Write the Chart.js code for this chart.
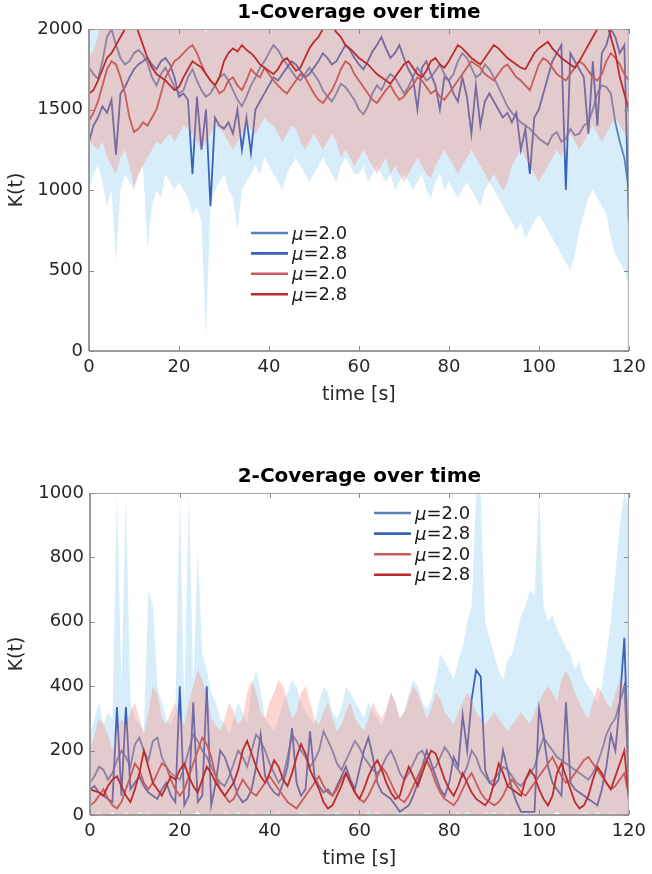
<!DOCTYPE html>
<html>
<head>
<meta charset="utf-8">
<script src="https://cdn.jsdelivr.net/npm/chart.js@4.4.1/dist/chart.umd.min.js"></script>
<style>
  html, body { margin: 0; padding: 0; background: #ffffff; }
  body { width: 652px; height: 874px; position: relative; overflow: hidden; }
  canvas { position: absolute; left: 0; }
  #c1 { top: 0px; }
  #c2 { top: 464px; }
</style>
</head>
<body>
<canvas id="c1" width="652" height="410"></canvas>
<canvas id="c2" width="652" height="410"></canvas>
<script>
// ---------------- DATA ----------------
const timeS = [0,1,2,3,4,5,6,7,8,9,10,11,12,13,14,15,16,17,18,19,20,21,22,23,24,25,26,27,28,29,30,31,32,33,34,35,36,37,38,39,40,41,42,43,44,45,46,47,48,49,50,51,52,53,54,55,56,57,58,59,60,61,62,63,64,65,66,67,68,69,70,71,72,73,74,75,76,77,78,79,80,81,82,83,84,85,86,87,88,89,90,91,92,93,94,95,96,97,98,99,100,101,102,103,104,105,106,107,108,109,110,111,112,113,114,115,116,117,118,119,120];
const muValues = ['2.0', '2.8', '2.0', '2.8'];
const xTicks = [0, 20, 40, 60, 80, 100, 120];
const yTicks1 = [0, 500, 1000, 1500, 2000];
const yTicks2 = [0, 200, 400, 600, 800, 1000];
const titles = ['1-Coverage over time', '2-Coverage over time'];

// ---- chart 1 (1-Coverage) ----
const cov1Blue20 = [1760,1720,1690,1800,1950,2000,1900,1820,1780,1800,
1850,1870,1840,1790,1700,1650,1720,1760,1700,1640,
1600,1620,1700,1750,1680,1620,1580,1600,1650,1700,
1720,1680,1620,1560,1520,1580,1650,1700,1760,1800,
1850,1900,1870,1820,1780,1740,1700,1680,1720,1760,
1720,1680,1620,1580,1550,1600,1660,1640,1600,1560,
1500,1470,1520,1600,1650,1620,1680,1720,1700,1650,
1600,1640,1700,1760,1720,1680,1700,1740,1780,1720,
1680,1720,1800,1850,1820,1760,1700,1720,1780,1750,
1700,1640,1580,1520,1480,1450,1420,1400,1380,1350,
1320,1300,1280,1340,1360,1300,1320,1380,1340,1350,
1400,1420,1500,1600,1650,1640,1600,1420,1300,1200,
1000];
const cov1Blue28 = [1300,1400,1450,1520,1480,1560,1220,1600,1640,1700,
1750,1780,1800,1820,1780,1750,1800,1820,1780,1700,
1580,1600,1560,1100,1580,1250,1500,900,1450,1400,
1380,1420,1350,1500,1250,1450,1230,1500,1550,1600,
1650,1700,1680,1720,1760,1800,1780,1740,1700,1720,
1760,1800,1850,1820,1780,1800,1850,1900,1870,1820,
1780,1750,1800,1860,1900,1950,1880,1820,1850,1900,
1820,1750,1700,1500,1760,1800,1720,1650,1500,1700,
1680,1600,1550,1700,1580,1350,1650,1400,1550,1600,
1550,1500,1450,1480,1420,1480,1250,1380,1100,1450,
1500,1600,1700,1800,1850,1900,1000,1850,1800,1750,
1700,1350,1800,1400,1850,1900,2000,1950,1850,1900,
800];
const cov1Red20 = [1430,1480,1550,1650,1750,1800,1780,1700,1600,1450,
1360,1380,1420,1400,1450,1500,1600,1700,1750,1800,
1820,1850,1880,1900,1850,1780,1720,1680,1650,1600,
1620,1680,1700,1650,1620,1680,1750,1720,1700,1760,
1720,1680,1650,1620,1600,1640,1680,1720,1700,1650,
1600,1560,1540,1580,1620,1680,1750,1800,1780,1720,
1680,1640,1600,1560,1540,1580,1620,1650,1600,1560,
1580,1620,1650,1700,1680,1640,1600,1620,1580,1560,
1600,1640,1680,1720,1760,1800,1780,1760,1720,1700,
1680,1720,1760,1780,1740,1700,1680,1650,1620,1700,
1780,1820,1800,1760,1720,1700,1680,1720,1760,1800,
1780,1740,1700,1680,1720,1800,1850,1820,1780,1720,
1680];
const cov1Red28 = [1600,1620,1680,1750,1820,1850,1900,1950,2000,2050,
2050,1980,1900,1820,1760,1720,1700,1680,1650,1620,
1640,1700,1750,1800,1780,1760,1720,1680,1650,1700,
1800,1850,1880,1860,1900,1870,1850,1820,1780,1760,
1740,1720,1750,1800,1820,1780,1740,1760,1820,1880,
1920,1950,2000,2050,2020,1980,1950,1900,1880,1850,
1820,1800,1780,1750,1720,1700,1680,1660,1700,1740,
1780,1800,1760,1720,1700,1740,1800,1820,1780,1760,
1800,1850,1900,1880,1850,1820,1800,1780,1820,1860,
1900,1880,1850,1820,1800,1780,1760,1750,1800,1850,
1880,1900,1920,1880,1850,1820,1800,1780,1760,1800,
1850,1900,1950,2000,2050,2050,1950,1850,1700,1600,
1500];
const cov1BlueLo = [1000,1100,1150,1050,900,1000,550,1000,1100,1050,
1000,1100,1150,630,900,1000,950,1100,1050,1000,
1050,1000,950,850,900,800,80,900,1000,1050,
1100,1000,950,750,1000,1050,1100,1150,1100,1200,
1150,1100,1050,1000,1100,1150,1200,1150,1100,1050,
1100,1150,1200,1150,1100,1050,1150,1200,1150,1100,
1100,1150,1050,1100,1150,1100,1050,1100,1000,1050,
1100,1050,1000,1050,1100,1000,950,1050,1100,1000,
1050,1000,950,1000,1050,1000,950,900,1000,1050,
1000,950,900,850,800,750,800,700,750,800,
850,800,750,700,650,600,550,500,600,750,
850,950,1000,950,900,850,700,600,550,500,
400];
const cov1BlueHi = [2100,2150,2200,2150,2100,2120,2180,2150,2100,2150,
2120,2100,2150,2200,2150,2100,2120,2150,2180,2150,
2100,2120,2150,2100,2080,2050,1960,2100,2150,2120,
2100,2150,2180,2150,2100,2120,2150,2100,2080,2120,
2150,2180,2150,2120,2100,2150,2180,2150,2100,2120,
2150,2100,2120,2150,2180,2150,2120,2100,2150,2180,
2150,2120,2100,2150,2180,2150,2100,2120,2150,2100,
2120,2150,2180,2150,2100,2120,2150,2180,2150,2120,
2100,2150,2180,2150,2120,2100,2150,2200,2150,2120,
2100,2150,2120,2100,2150,2180,2150,2120,2100,2150,
2180,2150,2120,2100,2150,2180,2150,2120,2100,2150,
2120,2150,2180,2150,2100,2120,2150,2200,2150,2120,
2100];
const cov1RedLo = [1300,1280,1250,1300,1200,1150,1100,1200,1250,1150,
1020,1100,1150,1200,1250,1300,1280,1320,1350,1300,
1350,1400,1380,1350,1300,1250,1300,1350,1400,1380,
1350,1300,1250,1300,1350,1400,1380,1350,1400,1450,
1420,1400,1350,1300,1350,1400,1380,1300,1250,1300,
1350,1300,1250,1300,1350,1300,1200,1250,1200,1150,
1200,1250,1200,1150,1100,1150,1200,1100,1150,1100,
1050,1100,1150,1200,1150,1100,1075,1150,1200,1250,
1200,1150,1100,1150,1200,1250,1200,1150,1100,1050,
1100,1050,990,1050,1150,1200,1250,1200,1150,1100,
1050,1100,1150,1200,1250,1200,1300,1350,1300,1250,
1300,1350,1400,1350,1300,1350,1400,1450,1400,1350,
1300];
const cov1RedHi = [1820,1870,1950,2100,2150,2120,2100,2150,2180,2150,
2120,2100,2150,2180,2150,2120,2100,2150,2180,2150,
2120,2100,2150,2120,2080,2050,1980,2100,2150,2120,
2100,2150,2180,2150,2120,2100,2150,2180,2150,2120,
2100,2150,2180,2150,2120,2100,2150,2180,2150,2120,
2100,2150,2180,2150,2120,2100,2150,2180,2150,2120,
2100,2150,2180,2150,2120,2100,2150,2180,2150,2120,
2100,2150,2180,2150,2120,2100,2150,2180,2150,2120,
2100,2150,2180,2150,2120,2100,2150,2180,2150,2120,
2100,2150,2180,2150,2120,2100,2150,2180,2150,2120,
2100,2150,2180,2150,2120,2100,2150,2180,2150,2120,
2100,2150,2180,2150,2120,2100,2150,2180,2150,2120,
2100];

// ---- chart 2 (2-Coverage) ----
const cov2Blue20 = [100,120,150,140,110,130,170,200,180,150,
220,240,200,170,230,240,180,150,130,120,
110,150,200,250,230,200,180,150,120,100,
90,120,160,200,180,150,200,250,230,200,
160,130,100,120,180,250,230,200,180,150,
170,200,260,230,200,160,140,170,200,230,
210,180,160,140,130,150,180,200,170,130,
110,130,160,190,200,170,140,150,180,210,
190,160,140,120,150,200,180,140,120,100,
110,130,150,140,120,100,90,110,130,150,
200,240,220,200,180,170,160,150,140,130,
120,110,130,160,200,250,280,300,350,400,
100];
const cov2Blue28 = [80,90,70,60,50,40,335,60,335,80,
100,120,90,70,60,50,80,100,60,40,
400,30,60,350,40,60,400,30,100,200,
180,140,100,60,40,50,80,150,250,120,
90,70,60,100,150,270,100,60,80,260,
120,90,70,80,60,90,120,150,110,80,
140,200,240,180,100,70,60,50,30,10,
20,30,60,100,150,200,160,120,80,60,
100,180,150,310,200,360,450,430,140,100,
90,110,200,140,80,40,10,10,10,10,
330,250,150,100,80,60,350,100,80,70,
60,50,40,30,80,150,250,200,350,550,
100];
const cov2Red20 = [30,40,60,80,50,30,20,40,80,120,
160,140,100,80,100,130,160,150,110,80,
60,80,120,160,200,240,220,180,120,80,
60,40,50,80,110,90,70,60,80,100,
120,100,80,60,40,30,20,40,60,80,
100,120,90,70,60,80,110,130,100,70,
50,40,60,90,120,150,130,100,70,50,
40,60,90,120,150,170,140,100,70,50,
40,30,50,80,110,130,100,70,50,40,
30,40,60,90,110,90,70,60,80,100,
120,140,160,180,150,120,100,110,130,150,
170,180,160,140,120,100,80,90,110,130,
60];
const cov2Red28 = [80,75,70,60,90,110,120,90,60,40,
80,130,200,150,100,80,60,90,120,110,
140,160,120,90,70,110,150,130,100,80,
60,80,100,140,200,230,190,150,120,100,
130,170,150,110,90,130,180,220,190,140,
110,80,40,20,30,60,90,130,100,70,
50,80,120,150,170,140,100,70,50,60,
110,150,120,90,130,170,200,190,150,110,
80,60,90,130,100,70,50,40,30,50,
100,160,130,90,80,70,60,110,140,120,
80,50,30,60,130,160,120,80,40,20,
30,60,110,150,130,100,80,120,160,200,
50];
const cov2BlueLo = [0,5,10,0,0,5,0,0,10,5,
0,0,5,10,0,0,5,0,0,10,
5,0,0,5,10,0,0,5,0,0,
10,5,0,0,5,0,10,0,5,0,
0,5,10,0,0,5,0,0,10,5,
0,0,5,10,0,0,5,0,0,10,
5,0,0,5,10,0,0,5,0,0,
10,5,0,0,5,0,10,0,5,0,
0,5,10,0,0,5,0,0,10,5,
0,0,5,10,0,0,5,0,0,10,
5,0,0,5,10,0,0,5,0,0,
10,5,0,0,5,0,10,0,5,0,
0];
const cov2BlueHi = [250,300,350,280,320,300,1000,400,1000,350,
300,280,260,700,650,400,350,300,280,320,
1000,350,1000,400,820,500,450,380,350,300,
280,250,300,350,320,280,400,450,380,300,
280,260,300,350,380,420,400,350,320,300,
280,350,400,380,320,300,330,400,380,350,
330,300,350,320,300,280,320,380,350,300,
320,380,420,400,350,330,360,420,500,480,
450,420,480,520,600,650,1000,1000,600,550,
500,450,420,480,500,560,620,650,700,680,
1000,650,600,620,580,550,520,500,450,480,
420,400,380,350,400,500,600,750,900,1000,
950];
const cov2RedLo = [0,0,5,0,0,10,0,0,5,0,
0,10,0,0,5,0,0,0,10,0,
5,0,0,0,10,0,5,0,0,0,
0,5,0,10,0,0,0,5,0,0,
10,0,0,5,0,0,0,10,0,5,
0,0,0,5,0,10,0,0,0,5,
0,0,10,0,0,5,0,0,0,10,
0,5,0,0,0,10,0,0,5,0,
0,0,5,0,10,0,0,0,5,0,
10,0,0,5,0,0,0,10,0,0,
5,0,0,0,10,0,5,0,0,0,
0,5,0,10,0,0,0,5,0,0,
0];
const cov2RedHi = [200,250,300,280,250,200,260,300,280,320,
350,300,250,320,400,380,300,280,320,350,
300,280,350,400,450,420,380,300,280,260,
300,350,320,280,300,380,420,380,320,300,
350,380,420,400,350,300,320,380,400,350,
300,280,320,350,300,260,280,320,350,300,
280,260,300,350,320,300,330,380,350,300,
320,360,400,380,340,300,330,380,360,320,
300,280,320,350,380,360,320,300,280,300,
320,300,280,260,280,300,320,300,280,320,
350,380,400,380,350,420,450,420,380,350,
320,300,350,400,380,350,330,380,420,400,
350];

// ---------------- STYLE ----------------
const FONT = '"DejaVu Sans", "Liberation Sans", sans-serif';
const C_BLUE20 = 'rgb(90,130,186)';
const C_BLUE28 = 'rgb(58,98,184)';
const C_RED20 = 'rgb(200,92,92)';
const C_RED28 = 'rgb(188,44,44)';
const C_BLUE_BAND = 'rgba(100,190,235,0.26)';
const C_RED_BAND = 'rgba(250,125,110,0.32)';
const lineColors = [C_BLUE20, C_BLUE28, C_RED20, C_RED28];

function pts(arr) { return timeS.map((t, i) => ({ x: t, y: arr[i] })); }

function makeDatasets(bLo, bHi, b20, b28, rLo, rHi, r20, r28) {
  const band = (d, order) => ({ data: pts(d), borderWidth: 0, pointRadius: 0, borderColor: 'rgba(0,0,0,0)', fill: false, order });
  const line = (d, c, order) => ({ data: pts(d), borderColor: c, borderWidth: 1.8, pointRadius: 0, fill: false, tension: 0, order });
  return [
    band(bLo, 10),
    Object.assign(band(bHi, 9), { fill: '-1', backgroundColor: C_BLUE_BAND }),
    line(b20, C_BLUE20, 8),
    line(b28, C_BLUE28, 7),
    band(rLo, 6),
    Object.assign(band(rHi, 5), { fill: '-1', backgroundColor: C_RED_BAND }),
    line(r20, C_RED20, 4),
    line(r28, C_RED28, 3)
  ];
}

// plugin: box, inward ticks, custom mu legend
const frameAndLegend = {
  id: 'frameAndLegend',
  afterDraw(chart, args, opts) {
    const ctx = chart.ctx;
    const a = chart.chartArea;
    const xs = chart.scales.x, ys = chart.scales.y;
    ctx.save();
    ctx.strokeStyle = '#a8a8a8';
    ctx.lineWidth = 1;
    ctx.beginPath();
    ctx.moveTo(a.left, a.top + 0.5); ctx.lineTo(a.right, a.top + 0.5);
    ctx.moveTo(a.right - 0.5, a.top); ctx.lineTo(a.right - 0.5, a.bottom);
    ctx.stroke();
    ctx.strokeStyle = '#9c9c9c';
    ctx.lineWidth = 2;
    ctx.beginPath();
    ctx.moveTo(a.left, a.bottom); ctx.lineTo(a.right, a.bottom);
    ctx.moveTo(a.left, a.top); ctx.lineTo(a.left, a.bottom);
    ctx.stroke();
    ctx.strokeStyle = '#8a8a8a';
    ctx.lineWidth = 1;
    ctx.beginPath();
    opts.xTicks.forEach(v => {
      const px = Math.round(xs.getPixelForValue(v)) + 0.5;
      ctx.moveTo(px, a.bottom); ctx.lineTo(px, a.bottom - 5);
      ctx.moveTo(px, a.top); ctx.lineTo(px, a.top + 5);
    });
    opts.yTicks.forEach(v => {
      const py = Math.round(ys.getPixelForValue(v)) + 0.5;
      ctx.moveTo(a.left, py); ctx.lineTo(a.left + 5, py);
      ctx.moveTo(a.right, py); ctx.lineTo(a.right - 5, py);
    });
    ctx.stroke();
    const L = opts.legend;
    ctx.textBaseline = 'middle';
    ctx.textAlign = 'left';
    muValues.forEach((mv, i) => {
      const y = L.y0 + i * L.dy;
      ctx.strokeStyle = lineColors[i];
      ctx.lineWidth = 2.6;
      ctx.beginPath();
      ctx.moveTo(L.x, y); ctx.lineTo(L.x + 37, y);
      ctx.stroke();
      ctx.fillStyle = '#1a1a1a';
      ctx.font = 'italic 18px ' + FONT;
      const tx = L.x + 41;
      ctx.fillText('\u03BC', tx, y + 2);
      const w = ctx.measureText('\u03BC').width;
      ctx.font = '18px ' + FONT;
      ctx.fillText('=' + mv, tx + w, y + 1);
    });
    ctx.restore();
  }
};

function makeChart(id, title, datasets, yMax, yStep, yTicks, yAxisWidth, legend) {
  return new Chart(document.getElementById(id), {
    type: 'line',
    data: { datasets },
    plugins: [frameAndLegend],
    options: {
      responsive: false,
      animation: false,
      devicePixelRatio: 1,
      layout: { padding: { left: 0, right: 20, top: 0, bottom: 0 } },
      plugins: {
        legend: { display: false },
        tooltip: { enabled: false },
        title: {
          display: true, text: title, fullSize: false,
          color: '#000000',
          font: { family: FONT, size: 20, weight: 'bold', lineHeight: 1.1 },
          padding: { top: 2, bottom: 5 }
        },
        frameAndLegend: { xTicks, yTicks, legend }
      },
      scales: {
        x: {
          type: 'linear', min: 0, max: 120,
          afterFit(s) { s.height = 59; },
          afterBuildTicks(s) { s.ticks = xTicks.map(v => ({ value: v })); },
          grid: { display: false, drawTicks: false },
          border: { display: false },
          ticks: { padding: 6, color: '#262626', font: { family: FONT, size: 18 }, maxRotation: 0,
                   callback: v => String(v) },
          title: { display: true, text: 'time [s]', color: '#262626', font: { family: FONT, size: 19, lineHeight: 1.2 }, padding: { top: 0, bottom: 4 } }
        },
        y: {
          min: 0, max: yMax,
          afterFit(s) { s.width = yAxisWidth; },
          afterBuildTicks(s) { s.ticks = yTicks.map(v => ({ value: v })); },
          grid: { display: false, drawTicks: false },
          border: { display: false },
          ticks: { padding: 6, color: '#262626', font: { family: FONT, size: 18 },
                   callback: v => String(v) },
          title: { display: true, text: 'K(t)', color: '#262626', font: { family: FONT, size: 19, lineHeight: 1.2 }, padding: { top: 6, bottom: 0 } }
        }
      }
    }
  });
}

makeChart('c1', titles[0],
  makeDatasets(cov1BlueLo, cov1BlueHi, cov1Blue20, cov1Blue28, cov1RedLo, cov1RedHi, cov1Red20, cov1Red28),
  2000, 500, yTicks1, 89, { x: 251, y0: 233, dy: 20.4 });

makeChart('c2', titles[1],
  makeDatasets(cov2BlueLo, cov2BlueHi, cov2Blue20, cov2Blue28, cov2RedLo, cov2RedHi, cov2Red20, cov2Red28),
  1000, 200, yTicks2, 90, { x: 374, y0: 49, dy: 20.6 });
</script>
</body>
</html>
